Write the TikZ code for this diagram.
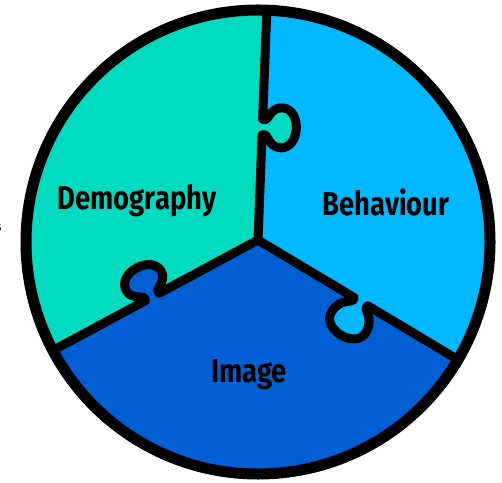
\documentclass[tikz,border=0pt]{standalone}
\usepackage{fontspec}
\setmainfont{Fira Sans}
\usepackage{tikz}
\usetikzlibrary{calc}
\definecolor{demoteal}{HTML}{00DBBF}
\definecolor{behavblue}{HTML}{00B8FE}
\definecolor{imageblue}{HTML}{005FD3}

\begin{document}
\begin{tikzpicture}[x=1pt,y=1pt,
    edge/.style={line width=9pt,line join=round,line cap=round},
    word/.style={font=\bfseries\fontsize{33}{33}\selectfont,xscale=0.83,anchor=base}]
  \useasboundingbox (0,0) rectangle (502,482);
  \coordinate (o) at (258,240);
  \coordinate (c) at (258,242);
  \begin{scope}
    \clip (o) circle (236);
    % the three slices
    \begin{scope}[shift={(c)}]
      \fill[demoteal] (0,0) -- (87.8:300) -- (148:300) -- (208.3:300) -- cycle;
      \fill[behavblue] (0,0) -- (-30.9:300) -- (28:300) -- (87.8:300) -- cycle;
      \fill[imageblue] (0,0) -- (208.3:300) -- (269:300) -- (329.1:300) -- cycle;
    \end{scope}
    % cuts with the knobs
    \foreach \ang/\pos/\deep/\col in {87.8/113/34/demoteal, 208.3/120/33/imageblue, -30.9/120/39/behavblue}{
      \begin{scope}[shift={(c)},rotate=\ang]
        \fill[\col] (\pos-8,0) .. controls (\pos-4,-6) and (\pos-20,-6) .. (\pos-20,-\deep+15)
          .. controls (\pos-20,-\deep+5) and (\pos-10,-\deep) .. (\pos,-\deep)
          .. controls (\pos+10,-\deep) and (\pos+20,-\deep+5) .. (\pos+20,-\deep+15)
          .. controls (\pos+20,-6) and (\pos+4,-6) .. (\pos+8,0) -- cycle;
        \draw[edge] (0,0) -- (\pos-8,0) .. controls (\pos-4,-6) and (\pos-20,-6) .. (\pos-20,-\deep+15)
          .. controls (\pos-20,-\deep+5) and (\pos-10,-\deep) .. (\pos,-\deep)
          .. controls (\pos+10,-\deep) and (\pos+20,-\deep+5) .. (\pos+20,-\deep+15)
          .. controls (\pos+20,-6) and (\pos+4,-6) .. (\pos+8,0) -- (240,0);
      \end{scope}
    }
  \end{scope}
  \draw[line width=11pt] (o) circle (232);
  \node[word] (demography) at (137,272) {Demography};
  \node[word] (behaviour) at (386,266) {Behaviour};
  \node[word] (image) at (249,100) {Image};
  \node[font=\bfseries\fontsize{14}{14}\selectfont,anchor=base east] (cut) at (5,250) {s};
\end{tikzpicture}
\end{document}
